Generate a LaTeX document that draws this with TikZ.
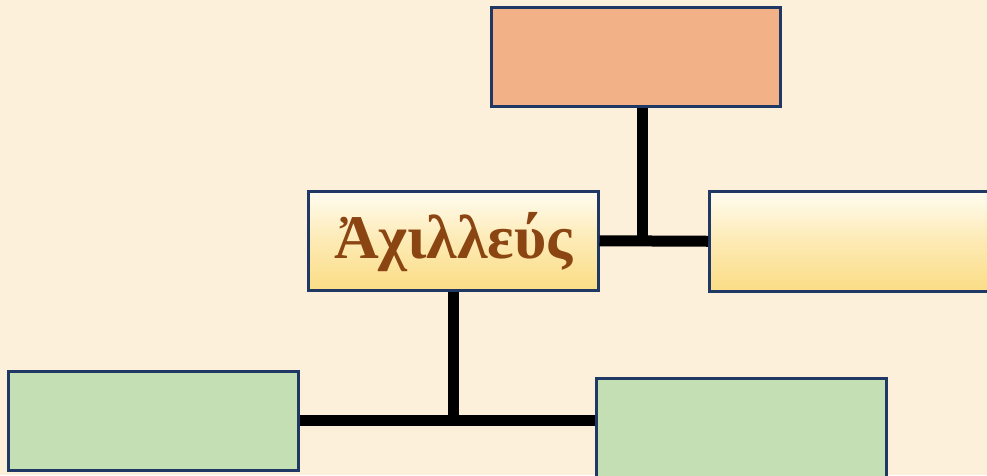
\documentclass[tikz,border=0pt]{standalone}
\usepackage{fontspec}
\newfontfamily\greekfont{Liberation Serif}
\definecolor{bgcream}{HTML}{FCF0DA}
\definecolor{navy}{HTML}{1F3864}
\definecolor{salmon}{HTML}{F2B186}
\definecolor{sage}{HTML}{C5DFB4}
\definecolor{goldA}{HTML}{FFFCF0}
\definecolor{goldB}{HTML}{FDEAB4}
\definecolor{goldC}{HTML}{FBDD85}
\definecolor{brownt}{HTML}{8B4513}
\begin{document}
\begin{tikzpicture}[x=1pt,y=-1pt,
  box/.style={draw=navy,line width=2.5pt,rectangle,inner sep=0pt,anchor=north west},
  goldbox/.style={box,shade,top color=goldA,bottom color=goldC,middle color=goldB},
  link/.style={line width=11pt,black}]
\fill[bgcream] (0,0) rectangle (987,475);
\useasboundingbox (0,0) rectangle (987,475);
\begin{scope}
\clip (0,0) rectangle (987,475);
\node[box,fill=salmon,minimum width=289pt,minimum height=99pt] (top) at (490,6) {};
\node[goldbox,minimum width=290pt,minimum height=99pt] (ctr) at (307,190) {};
\node[goldbox,minimum width=295pt,minimum height=100pt] (rgt) at (708,190) {};
\node[box,fill=sage,minimum width=290pt,minimum height=99pt] (bl) at (7,370) {};
\node[box,fill=sage,minimum width=290pt,minimum height=105pt] (br) at (595,377) {};
\node[text=brownt,font=\greekfont\bfseries\fontsize{62}{70}\selectfont] (lbl) at ([yshift=-1pt]ctr.center) {Ἀχιλλεύς};
\coordinate (j1) at (642,240);
\draw[link] (top.south -| j1) -- (j1);
\draw[link] (ctr.east) -- (rgt.west);
\draw[link] (ctr.south) -- (ctr.south |- bl.east);
\draw[link] (bl.east) -- (bl.east -| br.west);
\end{scope}
\end{tikzpicture}
\end{document}
